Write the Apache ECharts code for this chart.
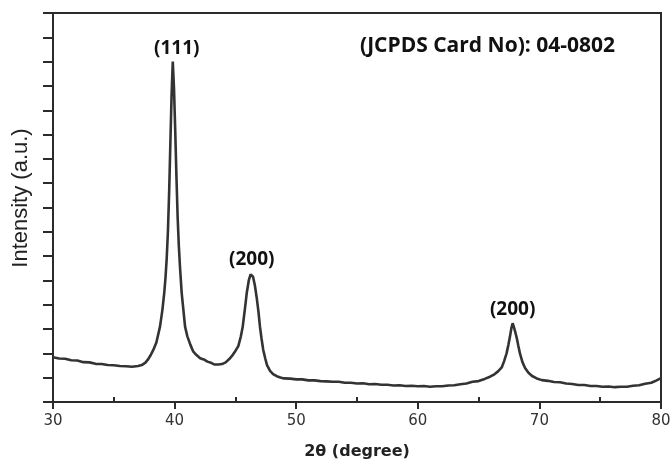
<!DOCTYPE html>
<html>
<head>
<meta charset="utf-8">
<script src="https://cdn.jsdelivr.net/npm/echarts@6/dist/echarts.min.js"></script>
<style>html,body{margin:0;padding:0;background:#fff}#c{width:672px;height:459px}</style>
</head>
<body>
<div id="c"></div>
<script>
// 2-theta positions (degree)
const twoTheta = [30,30.5,31,31.5,32,32.5,33,33.5,34,34.5,35,35.5,36,36.5,37,37.3,37.6,37.8,38.0,38.25,38.5,38.8,39.0,39.15,39.25,39.35,39.45,39.55,39.65,39.75,39.85,39.95,40.05,40.15,40.25,40.35,40.45,40.58,40.7,40.86,41.05,41.3,41.54,41.8,42.1,42.4,42.7,43.0,43.3,43.6,43.9,44.2,44.56,44.8,45.0,45.24,45.45,45.6,45.8,45.93,46.1,46.25,46.34,46.45,46.6,46.75,46.9,47.02,47.15,47.29,47.45,47.6,47.85,48.1,48.4,48.7,49.0,49.5,50,50.5,51,51.5,52,52.5,53,53.5,54,54.5,55,55.5,56,56.5,57,57.5,58,58.5,59,59.5,60,60.5,61,61.5,62,62.5,63,63.5,64,64.5,65,65.5,65.94,66.3,66.6,66.9,67.1,67.3,67.45,67.58,67.7,67.8,67.92,68.03,68.13,68.27,68.4,68.6,68.82,69.1,69.4,69.78,70.2,70.7,71.2,71.7,72.2,72.7,73.2,73.7,74.2,74.7,75.2,75.7,76.2,76.7,77.2,77.7,78.2,78.7,79.2,79.6,80];
// intensity (a.u.)
const intensity = [1.84,1.79,1.78,1.72,1.71,1.64,1.63,1.57,1.56,1.52,1.51,1.48,1.47,1.45,1.48,1.52,1.62,1.74,1.9,2.14,2.45,3.1,3.8,4.5,5.1,5.9,7.0,8.6,10.6,12.6,14.0,12.9,11.2,9.3,7.6,6.4,5.5,4.5,3.9,3.1,2.7,2.35,2.07,1.93,1.80,1.75,1.66,1.61,1.54,1.54,1.56,1.63,1.80,1.95,2.1,2.3,2.7,3.09,3.9,4.47,5.0,5.25,5.3,5.15,4.8,4.3,3.7,3.1,2.6,2.14,1.8,1.52,1.28,1.15,1.06,1.01,0.97,0.96,0.93,0.93,0.89,0.89,0.86,0.85,0.83,0.83,0.79,0.79,0.76,0.77,0.73,0.74,0.71,0.71,0.68,0.69,0.66,0.67,0.65,0.66,0.63,0.65,0.65,0.68,0.69,0.73,0.76,0.83,0.86,0.95,1.04,1.14,1.26,1.42,1.68,2.0,2.35,2.69,3.05,3.24,3.05,2.85,2.65,2.3,2.0,1.65,1.40,1.2,1.07,0.97,0.9,0.87,0.82,0.81,0.76,0.74,0.70,0.70,0.66,0.66,0.63,0.64,0.61,0.63,0.63,0.67,0.69,0.75,0.79,0.88,0.98];
// peak annotations
const peakLabels = ['(111)','(200)','(200)'];
const peakPos = [39.85, 46.34, 67.8];
const peakVal = [14.0, 5.3, 3.24];
const xTicks = [30,40,50,60,70,80];
const xMinorTicks = [35,45,55,65,75];
const cardText = '(JCPDS Card No): 04-0802';
const yTitle = 'Intensity (a.u.)';
const xTitle = '2θ (degree)';

const chart = echarts.init(document.getElementById('c'), null, {renderer:'canvas'});
const lineColor = '#2b2b2b';
chart.setOption({
  animation: false,
  backgroundColor: '#fff',
  grid: {left: 53, right: 11, top: 13, bottom: 57, containLabel: false, outerBoundsMode: 'none', show: true, borderColor: lineColor, borderWidth: 2, backgroundColor: 'transparent'},
  xAxis: [{
    type: 'value', min: 30, max: 80, interval: 10,
    axisLine: {lineStyle: {color: lineColor, width: 2}},
    axisTick: {show: true, inside: false, length: 7, lineStyle: {color: lineColor, width: 2}, customValues: xTicks},
    axisLabel: {margin: 12, fontSize: 15, fontFamily: 'DejaVu Sans', color: '#333', customValues: xTicks},
    splitLine: {show: false},
    name: xTitle, nameLocation: 'middle', nameGap: 42,
    nameTextStyle: {fontSize: 16, fontWeight: 'bold', fontFamily: 'DejaVu Sans', color: '#222'}
  }, {
    type: 'value', min: 30, max: 80, interval: 5, position: 'bottom',
    axisLine: {show: false},
    axisTick: {show: true, inside: true, length: 5, lineStyle: {color: lineColor, width: 2}, customValues: xMinorTicks},
    axisLabel: {show: false},
    splitLine: {show: false}
  }],
  yAxis: {
    type: 'value', min: 0, max: 16, interval: 1,
    axisLine: {show: true, lineStyle: {color: lineColor, width: 2}},
    axisTick: {show: true, inside: false, length: 10, lineStyle: {color: lineColor, width: 2}},
    axisLabel: {show: false},
    splitLine: {show: false}
  },
  series: [{
    type: 'line',
    data: twoTheta.map((x, i) => [x, intensity[i]]),
    showSymbol: false,
    smooth: false,
    lineStyle: {color: '#333', width: 2.6},
    markPoint: {
      symbol: 'circle', symbolSize: 0,
      label: {show: true, position: 'top', distance: 4, formatter: '{b}', fontSize: 19, fontWeight: 'bold', fontFamily: 'Open Sans', color: '#111'},
      data: peakLabels.map((t, i) => ({name: t, coord: [peakPos[i], peakVal[i]], label: i === 0 ? {offset: [4, 0]} : {}}))
    }
  }],
  graphic: [{
    type: 'text', x: 615, y: 46,
    style: {text: cardText, align: 'right', verticalAlign: 'middle', fontSize: 21, fontWeight: 'bold', fontFamily: 'Open Sans', fill: '#111'}
  }, {
    type: 'text', x: 21, y: 198, rotation: Math.PI / 2,
    style: {text: yTitle, align: 'center', verticalAlign: 'middle', fontSize: 22, fontFamily: 'Liberation Sans', fill: '#222'}
  }]
});
</script>
</body>
</html>
